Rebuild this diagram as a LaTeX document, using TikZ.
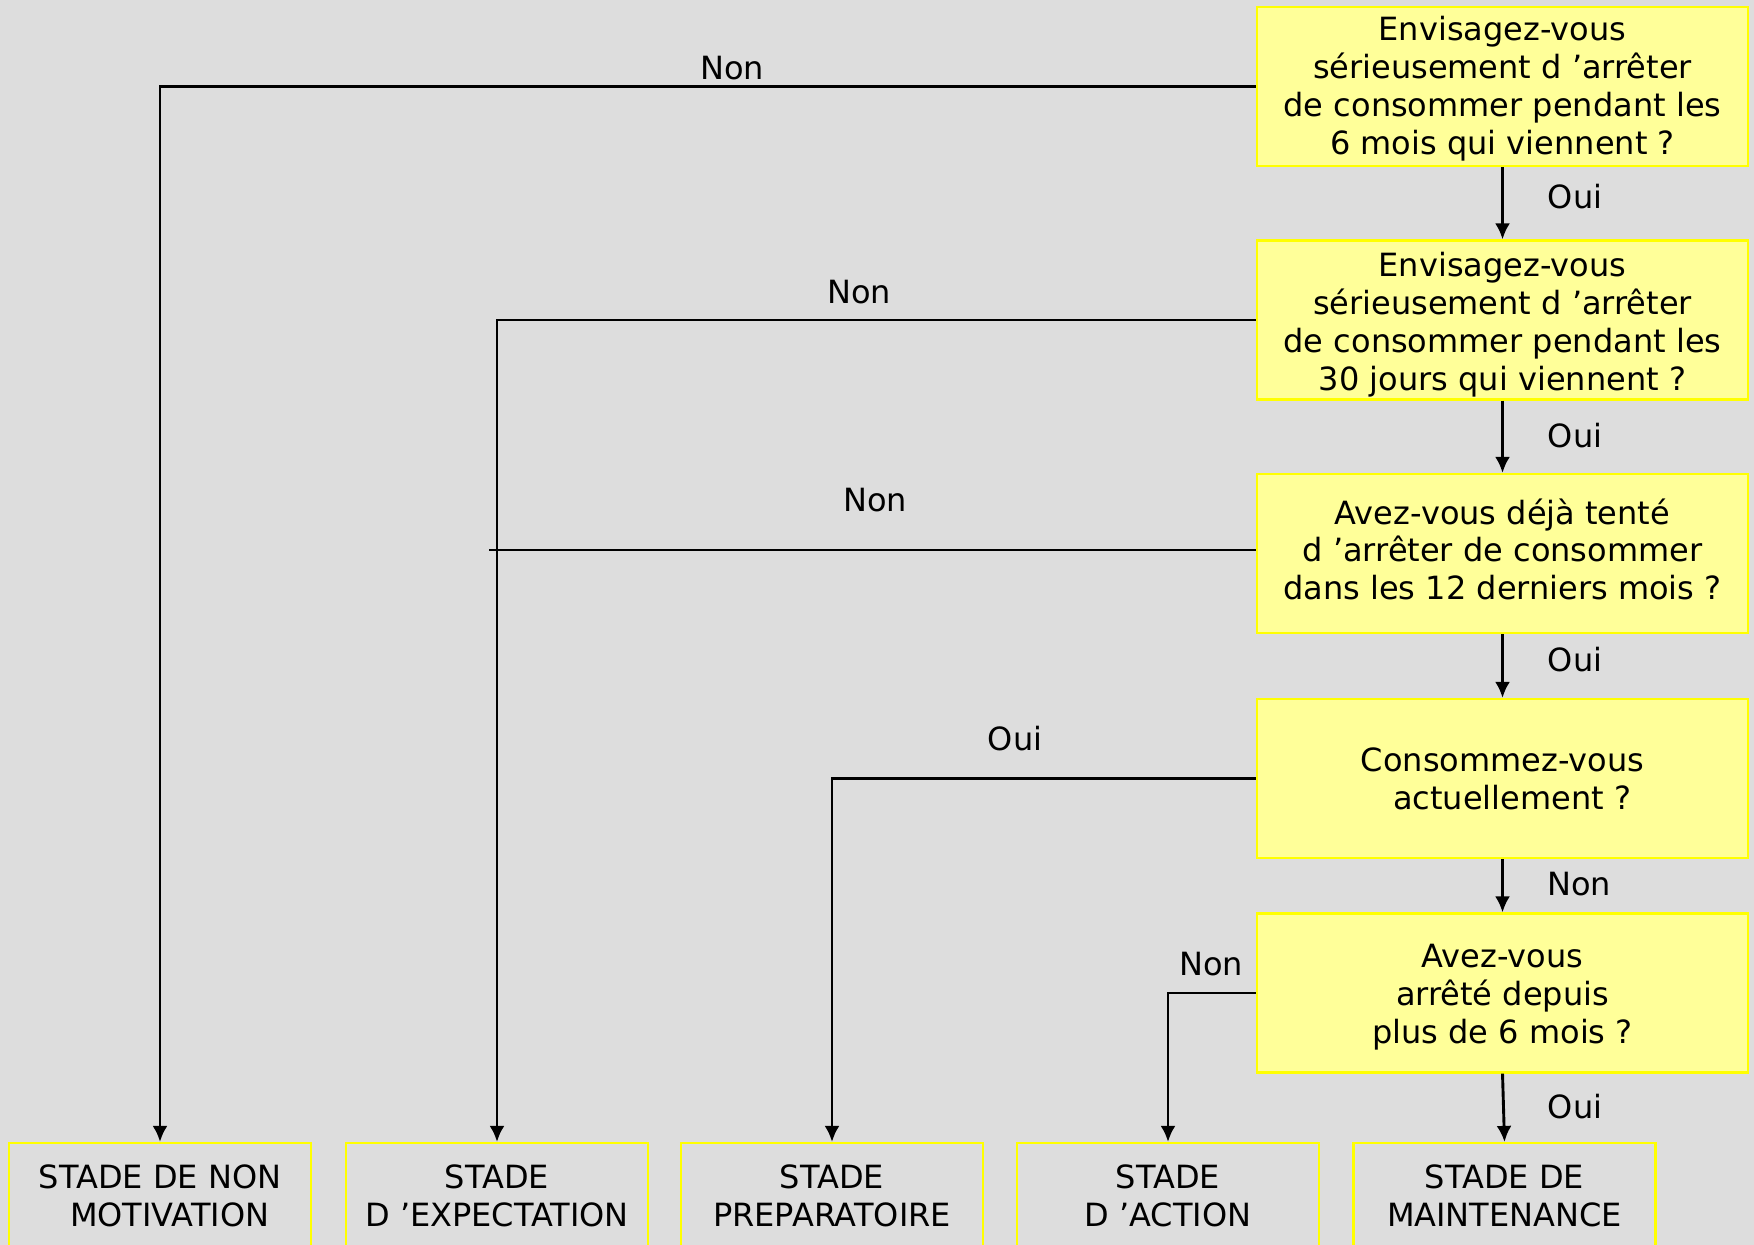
\documentclass[tikz,border=0pt]{standalone}
\usepackage{fontspec}
\setmainfont{DejaVu Sans}
\usetikzlibrary{arrows.meta}
\definecolor{bg}{RGB}{221,221,221}
\definecolor{qfill}{RGB}{255,255,153}
\definecolor{qline}{RGB}{255,255,0}
\tikzset{
  question/.style={draw=qline, fill=qfill, line width=1.1pt, align=center,
    minimum width=245.5pt, minimum height=79.5pt, inner sep=0pt,
    font=\fontsize{16pt}{19pt}\selectfont},
  lastbase/.style={text height=#1, text depth=0pt},
  stage/.style={draw=qline, line width=1.1pt, align=center,
    minimum width=151pt, minimum height=53pt, inner sep=0pt,
    font=\fontsize{16pt}{19pt}\selectfont},
  arr/.style={line width=1.45pt, -{Latex[length=8pt,width=7.5pt]}},
  plain/.style={line width=1.45pt},
  lbl/.style={font=\fontsize{16pt}{19pt}\selectfont, inner sep=0pt}
}
\begin{document}
\begin{tikzpicture}[x=0.5pt, y=-0.5pt]
\fill[bg] (0,0) rectangle (1754,1245);
\useasboundingbox (0,0) rectangle (1754,1245);
\clip (0,0) rectangle (1754,1245);

\node[question, lastbase=68.5pt] (q1) at (1502.5,86.5) {Envisagez-vous\\sérieusement d ’arrêter\\de consommer pendant les\\6 mois qui viennent ?};
\node[question, lastbase=71pt] (q2) at (1502.5,320) {Envisagez-vous\\sérieusement d ’arrêter\\de consommer pendant les\\30 jours qui viennent ?};
\node[question, lastbase=45.5pt, font=\fontsize{16pt}{18.6pt}\selectfont] (q3) at (1502.5,553.5) {Avez-vous déjà tenté\\d ’arrêter de consommer\\dans les 12 derniers mois ?};
\node[question] (q4) at (1502.5,778.5) {Consommez-vous\\\hspace*{0.6em}actuellement ?};
\node[question, lastbase=50.8pt] (q5) at (1502.5,993) {Avez-vous\\arrêté depuis\\plus de 6 mois ?};

\node[stage] (s1) at (160,1196) {STADE DE NON\\\hspace*{0.6em}MOTIVATION};
\node[stage] (s2) at (497,1196) {STADE\\D ’EXPECTATION};
\node[stage] (s3) at (832,1196) {STADE\\PREPARATOIRE};
\node[stage] (s4) at (1168,1196) {STADE\\D ’ACTION};
\node[stage] (s5) at (1504.5,1196) {STADE DE\\MAINTENANCE};

\coordinate (e3) at (489,550);

\draw[arr] (q1.south) -- (q2.north);
\draw[arr] (q2.south) -- (q3.north);
\draw[arr] (q3.south) -- (q4.north);
\draw[arr] (q4.south) -- (q5.north);
\draw[arr] (q5.south) -- (s5.north);

\draw[arr] (q1.west) -| (s1.north);
\draw[arr] (q2.west) -| (s2.north);
\draw[plain] (q3.west |- e3) -- (e3);
\draw[arr] (q4.west) -| (s3.north);
\draw[arr] (q5.west) -| (s4.north);

\node[lbl] (l1) at (732,68) {Non};
\node[lbl] (l2) at (859,292) {Non};
\node[lbl] (l3) at (875,500) {Non};
\node[lbl] (l4) at (1015,739) {Oui};
\node[lbl] (l5) at (1211,964) {Non};

\node[lbl] (v1) at (1575,197) {Oui};
\node[lbl] (v2) at (1575,436) {Oui};
\node[lbl] (v3) at (1575,660) {Oui};
\node[lbl] (v4) at (1579,884) {Non};
\node[lbl] (v5) at (1575,1107) {Oui};
\end{tikzpicture}
\end{document}
